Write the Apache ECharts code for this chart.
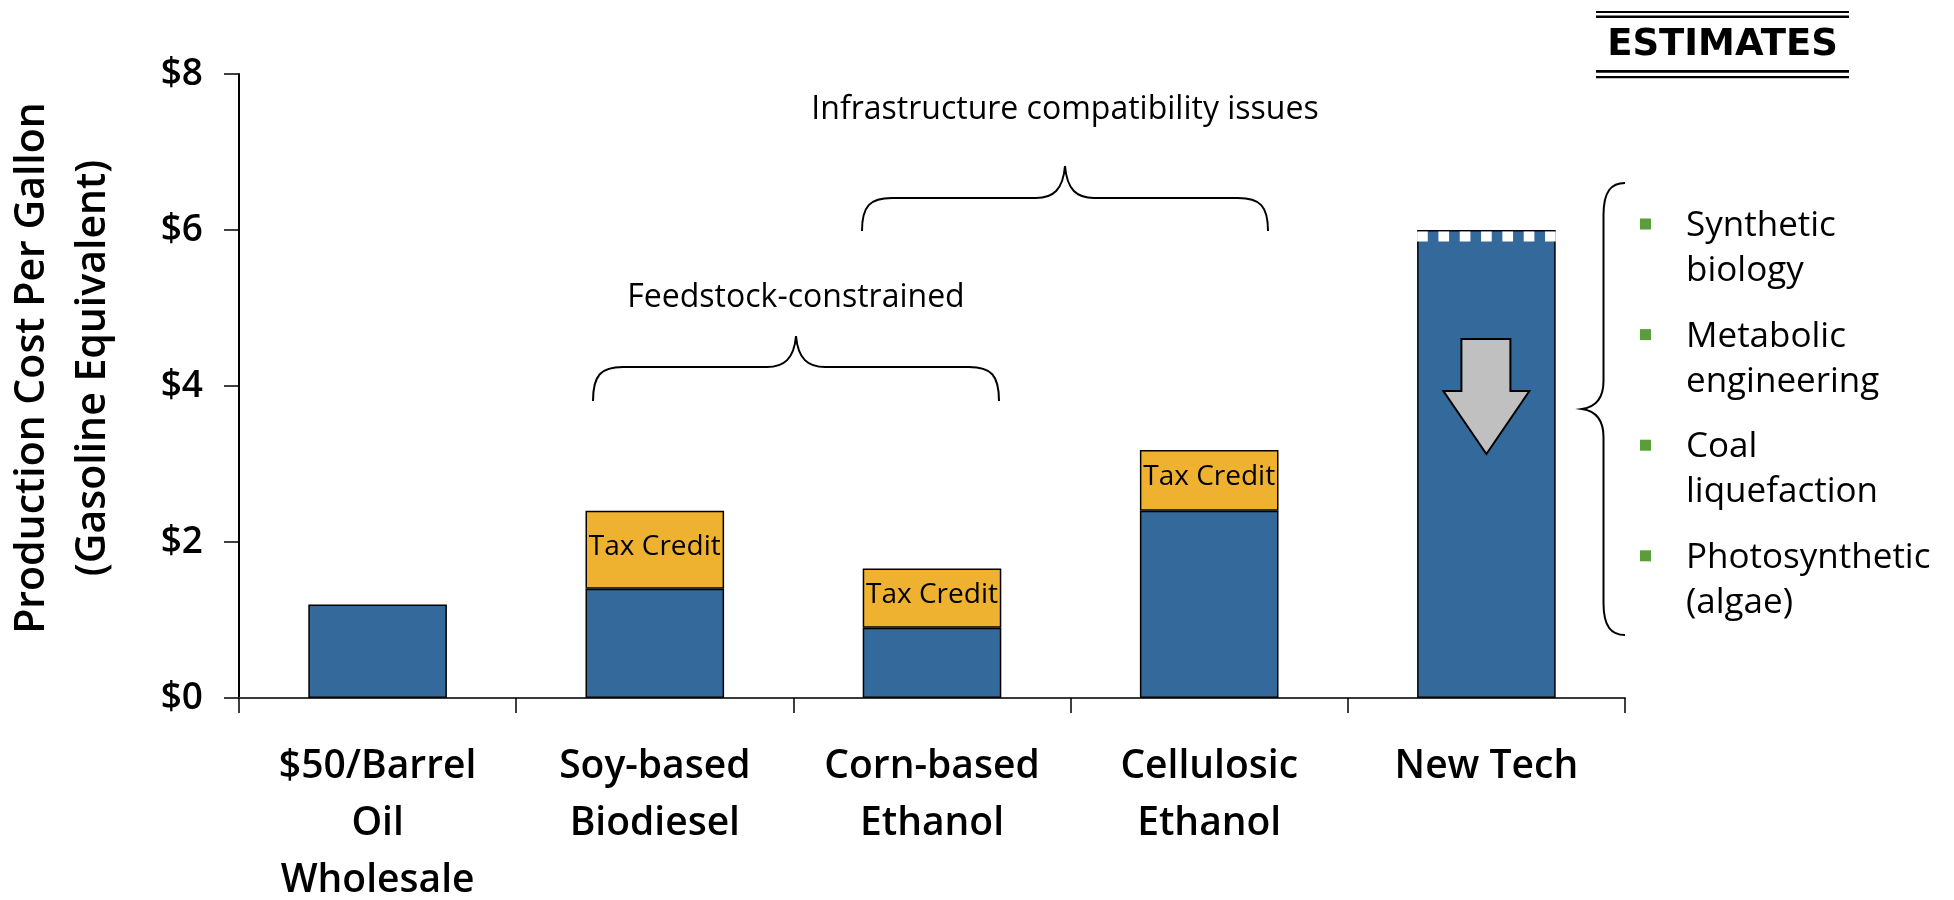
<!DOCTYPE html>
<html>
<head>
<meta charset="utf-8">
<script src="https://cdn.jsdelivr.net/npm/echarts@6/dist/echarts.min.js"></script>
<style>
  html, body { margin: 0; padding: 0; background: #fff; }
  #chart { width: 1954px; height: 900px; }
</style>
</head>
<body>
<div id="chart"></div>
<script>
// ---- data ----
const categories = ['$50/Barrel\nOil\nWholesale', 'Soy-based\nBiodiesel', 'Corn-based\nEthanol', 'Cellulosic\nEthanol', 'New Tech'];
const baseCost = [1.2, 1.4, 0.9, 2.4, 6.0];
const taxCredit = ['-', 1.0, 0.76, 0.78, '-'];
const taxCreditLabel = 'Tax Credit';
const yMin = 0, yMax = 8, yStep = 2;
const yAxisTitle = 'Production Cost Per Gallon\n(Gasoline Equivalent)';
const newTechIndex = 4;
const bulletItems = ['Synthetic\nbiology', 'Metabolic\nengineering', 'Coal\nliquefaction', 'Photosynthetic\n(algae)'];
const noteFeedstock = 'Feedstock-constrained';
const noteInfra = 'Infrastructure compatibility issues';
const stampText = 'ESTIMATES';

const FONT = '"Open Sans", "Noto Sans", sans-serif';
const BLUE = '#346a9b';
const GOLD = '#eeb230';
const GREEN = '#5a9e3c';

const chart = echarts.init(document.getElementById('chart'));

// braces (annotation shapes)
function hBrace(x1, x2, yEnd, yLine, yPeak) {
  const xm = (x1 + x2) / 2, r = 30, p = 29;
  return `M${x1},${yEnd} C${x1},${yLine + 8} ${x1 + 8},${yLine} ${x1 + r},${yLine} L${xm - p},${yLine} C${xm - 12},${yLine} ${xm - 2},${yLine - 8} ${xm},${yPeak} C${xm + 2},${yLine - 8} ${xm + 12},${yLine} ${xm + p},${yLine} L${x2 - r},${yLine} C${x2 - 8},${yLine} ${x2},${yLine + 8} ${x2},${yEnd}`;
}
function vBrace(xEnd, xLine, xPeak, y1, y2) {
  const ym = (y1 + y2) / 2, r = 32, p = 28;
  return `M${xEnd},${y1} C${xLine + 8},${y1} ${xLine},${y1 + 8} ${xLine},${y1 + r} L${xLine},${ym - p} C${xLine},${ym - 10} ${xLine - 8},${ym - 2} ${xPeak},${ym} C${xLine - 8},${ym + 2} ${xLine},${ym + 10} ${xLine},${ym + p} L${xLine},${y2 - r} C${xLine},${y2 - 8} ${xLine + 8},${y2} ${xEnd},${y2}`;
}
const bracePaths = [hBrace(593, 999, 401, 367, 336), hBrace(862, 1268, 231, 198, 166), vBrace(1625, 1603.5, 1582, 183, 635)];

const graphics = [];
graphics.push({ type: 'text', x: 796, y: 298, style: { text: noteFeedstock, font: `400 32px ${FONT}`, fill: '#000', align: 'center', verticalAlign: 'middle' } });
graphics.push({ type: 'text', x: 1065, y: 110, style: { text: noteInfra, font: `400 32px ${FONT}`, fill: '#000', align: 'center', verticalAlign: 'middle' } });

// bullet list
bulletItems.forEach((t, i) => {
  const cy = 224 + i * 110.6;
  graphics.push({ type: 'rect', shape: { x: 1640, y: cy - 5.5, width: 11, height: 11 }, style: { fill: GREEN } });
  graphics.push({ type: 'text', x: 1686, y: cy - 22.5 + 2, style: { text: t, font: `400 35px ${FONT}`, lineHeight: 45, fill: '#000', align: 'left', verticalAlign: 'top' } });
});

// ESTIMATES stamp
graphics.push({ type: 'rect', shape: { x: 1596, y: 11, width: 253, height: 2 }, style: { fill: '#000' } });
graphics.push({ type: 'rect', shape: { x: 1596, y: 15.5, width: 253, height: 2.5 }, style: { fill: '#000' } });
graphics.push({ type: 'rect', shape: { x: 1596, y: 70, width: 253, height: 2.7 }, style: { fill: '#000' } });
graphics.push({ type: 'rect', shape: { x: 1596, y: 76, width: 253, height: 2.3 }, style: { fill: '#000' } });
graphics.push({ type: 'text', x: 1722.5, y: 45, style: { text: stampText, font: `bold 37px "DejaVu Sans", sans-serif`, fill: '#000', align: 'center', verticalAlign: 'middle' } });

const option = {
  animation: false,
  backgroundColor: '#fff',
  grid: { left: 239, right: 329, top: 74, bottom: 202, containLabel: false, outerBoundsMode: 'none' },
  xAxis: {
    type: 'category',
    data: categories,
    axisLine: { lineStyle: { color: '#3a3a3a', width: 2 } },
    axisTick: { show: true, length: 15, lineStyle: { color: '#000', width: 1.5 } },
    axisLabel: { interval: 0, margin: 40, color: '#000', fontFamily: FONT, fontSize: 39, fontWeight: 600, lineHeight: 57 }
  },
  yAxis: {
    type: 'value',
    min: yMin, max: yMax, interval: yStep,
    name: yAxisTitle,
    nameLocation: 'middle',
    nameGap: 115,
    nameTextStyle: { color: '#000', fontFamily: FONT, fontSize: 41, fontWeight: 600, lineHeight: 61, padding: [0, 0, 0, 36] },
    axisLine: { show: true, lineStyle: { color: '#000', width: 2 } },
    axisTick: { show: true, length: 15, lineStyle: { color: '#000', width: 1.5 } },
    splitLine: { show: false },
    axisLabel: { margin: 36, color: '#000', fontFamily: FONT, fontSize: 37, fontWeight: 600, formatter: v => '$' + v }
  },
  series: [
    {
      type: 'bar', stack: 'cost', data: baseCost, barWidth: '50%',
      itemStyle: { color: BLUE, borderColor: '#000', borderWidth: 1.5 }
    },
    {
      type: 'bar', stack: 'cost', data: taxCredit, barWidth: '50%',
      itemStyle: { color: GOLD, borderColor: '#000', borderWidth: 1.5 },
      label: { show: true, position: 'inside', formatter: taxCreditLabel, color: '#000', fontFamily: FONT, fontSize: 28, offset: [0, -3] }
    },
    {
      type: 'custom', z: 5,
      data: [[newTechIndex, baseCost[newTechIndex]]],
      renderItem: function (params, api) {
        const top = api.coord([api.value(0), api.value(1)]);
        const w = api.size([1, 0])[0] * 0.5;
        const left = top[0] - w / 2;
        const sq = w / 13;
        const children = [];
        for (let i = 0; i < 7; i++) {
          children.push({ type: 'rect', shape: { x: left + i * 2 * sq, y: top[1] + 1.5, width: sq, height: 10 }, style: { fill: '#fff' } });
        }
        const cx = top[0], t = top[1];
        children.push({
          type: 'polygon',
          shape: { points: [[cx - 25, t + 109], [cx + 24, t + 109], [cx + 24, t + 161], [cx + 43, t + 161], [cx, t + 224], [cx - 43, t + 161], [cx - 25, t + 161]] },
          style: { fill: '#c0c0c0', stroke: '#000', lineWidth: 2 }
        });
        return { type: 'group', children: children };
      }
    },
    {
      type: 'custom', z: 5, silent: true,
      data: [[0, 0]],
      renderItem: function () {
        return {
          type: 'group',
          children: bracePaths.map(d => ({ type: 'path', shape: { pathData: d }, style: { stroke: '#000', lineWidth: 2, fill: null } }))
        };
      }
    }
  ],
  graphic: graphics
};
chart.setOption(option);
</script>
</body>
</html>
